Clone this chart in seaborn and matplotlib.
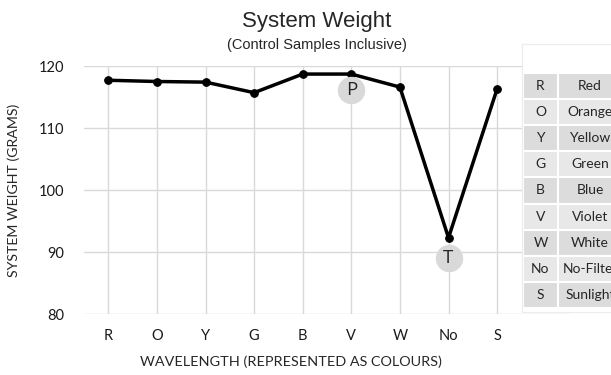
#!/usr/bin/env python3
"""System weight per wavelength filter, with the colour key table on the right."""

import matplotlib.pyplot as plt
import pandas as pd
import seaborn as sns

# chart data
categories = ["R", "O", "Y", "G", "B", "V", "W", "No", "S"]
weights = [117.7, 117.5, 117.4, 115.7, 118.7, 118.7, 116.6, 92.3, 116.3]
colour_names = ["Red", "Orange", "Yellow", "Green", "Blue", "Violet", "White", "No-Filter", "Sunlight"]
y_ticks = [80, 90, 100, 110, 120]

# peak / trough markers
marker_labels = ["P", "T"]
marker_cats = ["V", "No"]
marker_values = [116.1, 89.0]

W, H = 611, 375


def main():
    sns.set_theme(style="whitegrid")
    plt.rcParams["font.family"] = ["Lato", "DejaVu Sans"]

    df = pd.DataFrame({"category": categories, "weight": weights})

    fig = plt.figure(figsize=(W / 100, H / 100), dpi=100)
    ax = fig.add_axes([84 / W, 61 / H, 486 / W, 248 / H])

    sns.lineplot(
        data=df, x="category", y="weight", ax=ax, sort=False,
        color="black", linewidth=2.5, marker="o", markersize=5.5,
        markeredgecolor="black", zorder=3,
    )

    # P / T circles
    ax.scatter(marker_cats, marker_values, s=390, color="#d9d9d9", zorder=4, linewidths=0)
    for lab, c, v in zip(marker_labels, marker_cats, marker_values):
        ax.text(c, v, lab, ha="center", va="center", fontsize=13.5,
                color="#262626", zorder=5, family=["Open Sans", "DejaVu Sans"])

    ax.set_xlim(-0.5, 9.5)
    ax.set_ylim(80, 120)
    ax.set_yticks(y_ticks)
    ax.grid(True, color="#d9d9d9", linewidth=1.0)
    for s in ax.spines.values():
        s.set_visible(False)
    ax.tick_params(axis="both", length=0, labelsize=10.5, colors="#1a1a1a")
    ax.tick_params(axis="y", pad=14)
    ax.tick_params(axis="x", pad=11)

    ax.set_xlabel("WAVELENGTH (REPRESENTED AS COLOURS)", fontsize=10.4, color="#262626")
    ax.xaxis.set_label_coords((291 - 84) / 486, -(355 - 314) / 248)
    ax.set_ylabel("SYSTEM WEIGHT (GRAMS)", fontsize=10.2, color="#262626")
    ax.yaxis.set_label_coords(-(84 - 20) / 486, 0.5)

    fig.text(317 / W, 1 - 21 / H, "System Weight", ha="center", va="center",
             fontsize=16, family=["Liberation Sans", "DejaVu Sans"])
    fig.text(317 / W, 1 - 45 / H, "(Control Samples Inclusive)", ha="center", va="center",
             fontsize=10.5, family=["Liberation Sans", "DejaVu Sans"])

    # key box with table, overlapping the right of the plot
    box_w, box_h = 118, 268
    kax = fig.add_axes([522 / W, (H - 312) / H, box_w / W, box_h / H])
    kax.set_facecolor("white")
    kax.set_xticks([])
    kax.set_yticks([])
    kax.grid(False)
    for s in kax.spines.values():
        s.set_color("#ececec")
        s.set_linewidth(0.8)

    rows = [[c, n] for c, n in zip(categories, colour_names)]
    shades = ["#dcdcdc", "#e8e8e8"]
    cell_colours = [[shades[i % 2]] * 2 for i in range(len(rows))]
    tbl = kax.table(
        cellText=rows, cellColours=cell_colours, cellLoc="center",
        colWidths=[35 / 99, 64 / 99],
        bbox=[1 / box_w, 4 / box_h, 99 / box_w, 235 / box_h],
    )
    tbl.auto_set_font_size(False)
    for (r, c), cell in tbl.get_celld().items():
        cell.set_edgecolor("white")
        cell.set_linewidth(1.5)
        cell.get_text().set_fontsize(10)
        cell.get_text().set_color("#262626")

    fig.savefig("out.png", dpi=100)
    plt.close(fig)


if __name__ == "__main__":
    main()
